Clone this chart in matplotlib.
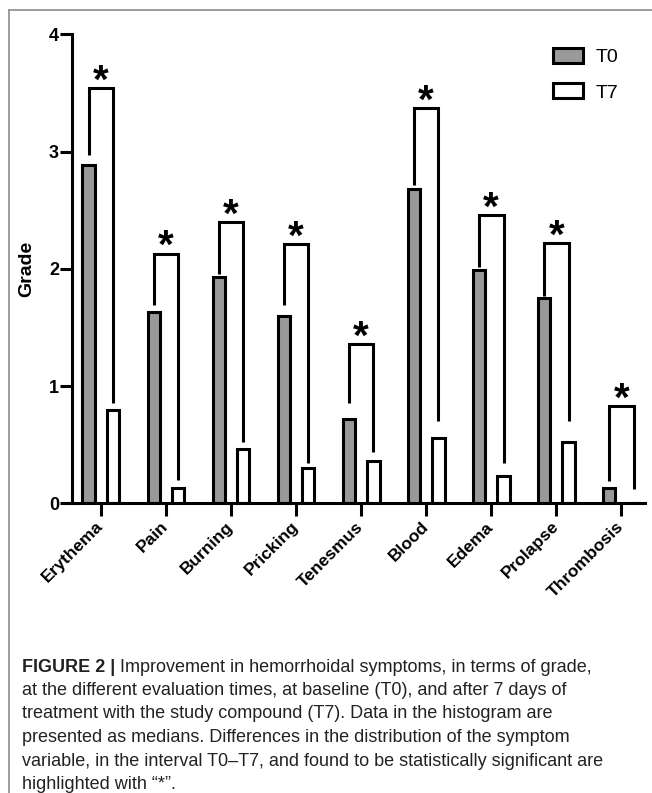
import numpy as np
import matplotlib.pyplot as plt

plt.rcParams['font.family'] = ['Liberation Sans', 'DejaVu Sans']

# Medians
symptoms = ["Erythema", "Pain", "Burning", "Pricking", "Tenesmus",
            "Blood", "Edema", "Prolapse", "Thrombosis"]
t0 = [2.89, 1.63, 1.93, 1.60, 0.72, 2.68, 1.99, 1.75, 0.13]
t7 = [0.80, 0.13, 0.46, 0.30, 0.36, 0.56, 0.23, 0.52, 0.0]

# significance brackets: top of bracket, bottom of the T0 leg, bottom of the T7 leg
bracket_top = [3.54, 2.13, 2.40, 2.21, 1.36, 3.37, 2.46, 2.22, 0.83]
leg_t0 = [2.97, 1.69, 1.96, 1.69, 0.86, 2.72, 2.02, 1.77, 0.19]
leg_t7 = [0.86, 0.20, 0.52, 0.34, 0.44, 0.70, 0.34, 0.70, 0.125]

caption = [
    "Improvement in hemorrhoidal symptoms, in terms of grade,",
    "at the different evaluation times, at baseline (T0), and after 7 days of",
    "treatment with the study compound (T7). Data in the histogram are",
    "presented as medians. Differences in the distribution of the symptom",
    "variable, in the interval T0\u2013T7, and found to be statistically significant are",
    "highlighted with \u201c*\u201d.",
]

lw = 2.2
off0, off7, width = -0.185, 0.19, 0.19
x = np.arange(len(symptoms))

fig = plt.figure(figsize=(6.52, 7.93), dpi=100)
ax = fig.add_axes([0.1109, 0.3653, 0.878, 0.5912])

ax.bar(x + off0, t0, width, color="#999999", edgecolor="black", linewidth=lw, label="T0")
ax.bar(x + off7, t7, width, color="white", edgecolor="black", linewidth=lw, label="T7")

for i in range(len(symptoms)):
    xl, xr = x[i] + off0, x[i] + off7
    ax.plot([xl, xl, xr, xr], [leg_t0[i], bracket_top[i], bracket_top[i], leg_t7[i]],
            color="black", lw=lw, solid_joinstyle="miter", solid_capstyle="butt")
    ax.annotate("*", xy=(x[i], bracket_top[i]), xytext=(0, -9), textcoords="offset points",
                ha="center", va="bottom", fontsize=29, fontweight="bold")

ax.set_xlim(-0.436, 8.36)
ax.set_ylim(0, 4)
ax.set_yticks([0, 1, 2, 3, 4])
ax.set_xticks(x)
ax.set_xticklabels(symptoms, rotation=45, ha="right", va="center",
                   rotation_mode="anchor", fontsize=12.5, fontweight="bold")
for lab in ax.get_yticklabels():
    lab.set_fontweight("bold")
    lab.set_fontsize(13)
ax.tick_params(axis="y", length=8.5, width=lw, pad=1)
ax.tick_params(axis="x", length=9, width=lw, pad=6)
for side in ["top", "right"]:
    ax.spines[side].set_visible(False)
for side in ["left", "bottom"]:
    ax.spines[side].set_linewidth(lw)
ax.set_ylabel("Grade", fontsize=14, fontweight="bold")
ax.yaxis.set_label_coords(-0.065, 0.5)

ax.legend(loc="upper left", bbox_to_anchor=(553 / 652, 1 - 47.5 / 793),
          bbox_transform=fig.transFigure, frameon=False, fontsize=14,
          handlelength=1.55, handleheight=0.82, handletextpad=0.65,
          labelspacing=0.9, borderpad=0, borderaxespad=0)

# page frame lines (top and left)
fig.add_artist(plt.Line2D([9 / 652, 1], [1 - 10 / 793] * 2, color="#8c8c8c", lw=1.2))
fig.add_artist(plt.Line2D([9 / 652] * 2, [0, 1 - 10 / 793], color="#8c8c8c", lw=1.2))

# caption
cap_font = ["Liberation Sans Narrow", "Liberation Sans", "DejaVu Sans"]
y0, dy = 1 - 667 / 793, 23.5 / 793
head = fig.text(22 / 652, y0, "FIGURE 2 |", fontsize=13, fontweight="bold",
                family=cap_font, va="center", color="#222222")
ax.annotate(" " + caption[0], xy=(1, 0.5), xycoords=head, va="center", ha="left",
            fontsize=13, family=cap_font, color="#222222", annotation_clip=False)
for k, line in enumerate(caption[1:], start=1):
    fig.text(22 / 652, y0 - k * dy, line, fontsize=13, family=cap_font,
             va="center", color="#222222")

fig.savefig("out.png", dpi=100)
